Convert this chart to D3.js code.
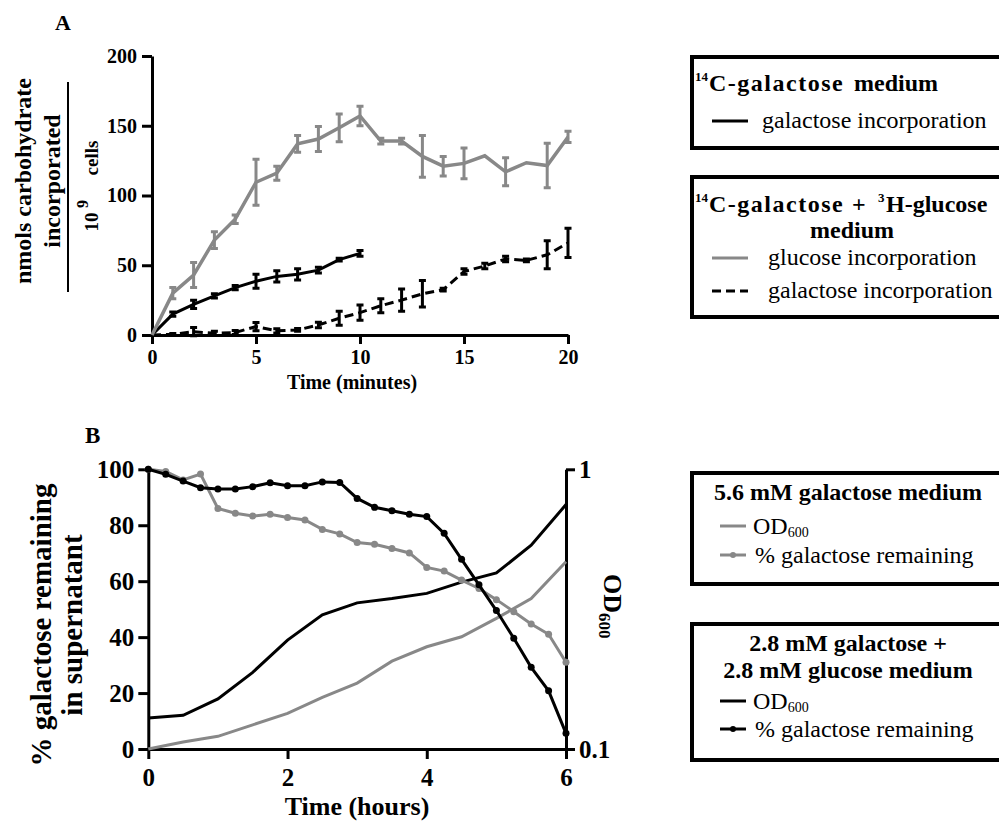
<!DOCTYPE html>
<html>
<head>
<meta charset="utf-8">
<script src="https://cdn.jsdelivr.net/npm/d3@7"></script>
<style>
body { margin: 0; background: #fff; }
svg, svg text { font-family: "Liberation Serif", "Tinos", "Times New Roman", "DejaVu Serif", serif; }
.axis path, .axis line { stroke: #000; stroke-width: 3; }
.axis text { font-weight: bold; fill: #000; }
.lbl { font-weight: bold; fill: #000; }
.leg { fill: #000; font-size: 24px; }
.box { fill: none; stroke: #000; stroke-width: 4; }
</style>
</head>
<body>
<div id="chart"></div>
<script>
// ---- panel A data (minutes) ----
let minutes = [0, 1, 2, 3, 4, 5, 6, 7, 8, 9, 10, 11, 12, 13, 14, 15, 16, 17, 18, 19, 20];
let minutesGalOnly = [0, 1, 2, 3, 4, 5, 6, 7, 8, 9, 10];
let glucoseMix = [0, 30, 43, 68, 83, 109.5, 116, 137, 140.5, 148.5, 157, 139, 139, 128, 121, 123, 128.5, 117, 123.5, 121.5, 142];
let glucoseMixErr = [0, 4, 9, 6, 3, 16.5, 5, 6, 9, 10, 7, 2, 2, 15, 7, 11, 0, 10, 0, 16, 4];
let galactoseOnly = [0, 15, 22, 28, 34, 38.5, 42, 43.5, 46.5, 54, 58.5];
let galactoseOnlyErr = [0, 1.5, 3, 1.5, 1.5, 5, 4, 4, 2, 1, 2];
let galactoseMix = [0, 0.5, 2.4, 1.2, 1.8, 6, 3, 3.6, 7.2, 12, 16, 21, 25, 29.5, 32.5, 45.5, 49.5, 54.5, 53.5, 57.5, 66];
let galactoseMixErr = [0, 0.5, 3, 1.5, 1.5, 3, 1.5, 1, 2, 5, 5.5, 5, 8, 9.5, 1, 2, 2, 2, 1, 10, 10.5];
let minuteTicks = [0, 5, 10, 15, 20];
let countTicks = [0, 50, 100, 150, 200];

// ---- panel B data (hours) ----
let hoursPct = [0, 0.25, 0.5, 0.75, 1, 1.25, 1.5, 1.75, 2, 2.25, 2.5, 2.75, 3, 3.25, 3.5, 3.75, 4, 4.25, 4.5, 4.75, 5, 5.25, 5.5, 5.75, 6];
let pctGal56 = [100, 99.2, 96.2, 98.3, 86, 84.3, 83.3, 83.9, 82.8, 81.9, 78.5, 76.9, 73.8, 73.2, 71.7, 70.1, 64.9, 63.6, 60.4, 57.4, 53.4, 49.1, 44.7, 41, 31];
let pctGalMix = [100, 98.2, 95.8, 93.4, 93, 93, 93.8, 95.2, 94.1, 94.1, 95.5, 95.3, 89.6, 86.4, 85.2, 83.9, 83.1, 77.1, 67.8, 58.7, 49.5, 39.6, 29.2, 20.8, 5.6];
let hoursOD = [0, 0.5, 1, 1.5, 2, 2.5, 3, 3.5, 4, 4.5, 5, 5.5, 6];
let od56 = [0.100, 0.106, 0.111, 0.122, 0.134, 0.153, 0.172, 0.206, 0.232, 0.252, 0.293, 0.345, 0.467];
let odMix = [0.129, 0.132, 0.151, 0.188, 0.245, 0.302, 0.333, 0.345, 0.360, 0.395, 0.426, 0.535, 0.748];
let hourTicks = [0, 2, 4, 6];
let pctTicks = [0, 20, 40, 60, 80, 100];
let odTicks = [0.1, 1];

let gray = "#888888";
let serif = "'Liberation Serif', 'Tinos', 'Times New Roman', 'DejaVu Serif', serif";

let svg = d3.select("#chart").append("svg")
	.attr("width", 999)
	.attr("height", 821)
	.attr("font-family", serif);

//================ panel A ================
let xA = d3.scaleLinear().domain([0, 20]).range([152, 568]);
let yA = d3.scaleLinear().domain([0, 200]).range([335, 56]);

svg.append("g")
	.attr("class", "axis")
	.attr("transform", `translate(0, ${yA(0)})`)
	.call(d3.axisBottom(xA).tickValues(minuteTicks).tickFormat(d3.format("d"))
		.tickSize(9).tickSizeOuter(0).tickPadding(6))
	.attr("font-size", 20).attr("font-family", serif);
svg.append("g")
	.attr("class", "axis")
	.attr("transform", `translate(${xA(0)}, 0)`)
	.call(d3.axisLeft(yA).tickValues(countTicks).tickFormat(d3.format("d"))
		.tickSize(10).tickSizeOuter(0).tickPadding(5))
	.attr("font-size", 20).attr("font-family", serif);

let lineOf = (xs, ys, xs_, ys_) => d3.line().x((d, i) => xs_(xs[i])).y(d => ys_(d))(ys);

let errorBars = function(g, xs, vals, errs, color, xs_, ys_) {
	let data = xs.map((x, i) => ({ x: x, v: vals[i], e: errs[i] })).filter(d => d.e > 0);
	g.selectAll(null)
		.data(data)
		.enter()
		.append("path")
		.attr("d", d => {
			let x = xs_(d.x), y0 = ys_(d.v - d.e), y1 = ys_(d.v + d.e), c = 3.5;
			return `M${x},${y0}V${y1}M${x - c},${y0}H${x + c}M${x - c},${y1}H${x + c}`;
		})
		.attr("fill", "none")
		.attr("stroke", color)
		.attr("stroke-width", 3);
};

let gA = svg.append("g");
//dashed galactose (mixed medium)
gA.append("path")
	.attr("d", lineOf(minutes, galactoseMix, xA, yA))
	.attr("fill", "none").attr("stroke", "#000").attr("stroke-width", 3)
	.attr("stroke-dasharray", "9,5");
errorBars(gA, minutes, galactoseMix, galactoseMixErr, "#000", xA, yA);
//solid galactose (galactose only medium)
gA.append("path")
	.attr("d", lineOf(minutesGalOnly, galactoseOnly, xA, yA))
	.attr("fill", "none").attr("stroke", "#000").attr("stroke-width", 3);
errorBars(gA, minutesGalOnly, galactoseOnly, galactoseOnlyErr, "#000", xA, yA);
//gray glucose
gA.append("path")
	.attr("d", lineOf(minutes, glucoseMix, xA, yA))
	.attr("fill", "none").attr("stroke", gray).attr("stroke-width", 3.5);
errorBars(gA, minutes, glucoseMix, glucoseMixErr, gray, xA, yA);

//labels A
svg.append("text").attr("class", "lbl").attr("x", 55).attr("y", 30).attr("font-size", 22).text("A");
svg.append("text").attr("class", "lbl").attr("x", 352).attr("y", 389)
	.attr("text-anchor", "middle").attr("font-size", 20).text("Time (minutes)");
svg.append("text").attr("class", "lbl").attr("font-size", 24).attr("text-anchor", "middle")
	.attr("transform", "translate(31, 181) rotate(-90)").text("nmols carbohydrate");
svg.append("text").attr("class", "lbl").attr("font-size", 24).attr("text-anchor", "middle")
	.attr("transform", "translate(60, 181) rotate(-90)").text("incorporated");
svg.append("line").attr("x1", 68).attr("x2", 68).attr("y1", 82).attr("y2", 292)
	.attr("stroke", "#000").attr("stroke-width", 2);
svg.append("text").attr("class", "lbl").attr("font-size", 19).attr("text-anchor", "middle")
	.attr("transform", "translate(98, 222) rotate(-90)").text("10");
svg.append("text").attr("class", "lbl").attr("font-size", 16).attr("text-anchor", "middle")
	.attr("transform", "translate(88, 204) rotate(-90)").text("9");
svg.append("text").attr("class", "lbl").attr("font-size", 19).attr("text-anchor", "middle")
	.attr("transform", "translate(98, 158) rotate(-90)").text("cells");

//legend A
let sup = (x, y, s) => svg.append("text").attr("x", x).attr("y", y)
	.attr("font-size", 13).attr("font-weight", "bold").text(s);

svg.append("rect").attr("class", "box").attr("x", 692).attr("y", 57).attr("width", 320).attr("height", 91);
sup(695, 81, "14");
let t1 = svg.append("text").attr("class", "leg").attr("y", 91).attr("font-weight", "bold");
t1.append("tspan").attr("x", 709).attr("letter-spacing", 1.5).text("C-galactose");
t1.append("tspan").attr("x", 854).text("medium");
svg.append("line").attr("x1", 712).attr("x2", 748).attr("y1", 121).attr("y2", 121)
	.attr("stroke", "#000").attr("stroke-width", 3);
svg.append("text").attr("class", "leg").attr("x", 762).attr("y", 128).text("galactose incorporation");

svg.append("rect").attr("class", "box").attr("x", 692).attr("y", 177).attr("width", 320).attr("height", 140);
sup(695, 202, "14");
sup(878, 202, "3");
let t2 = svg.append("text").attr("class", "leg").attr("y", 212).attr("font-weight", "bold");
t2.append("tspan").attr("x", 709).attr("letter-spacing", 1.5).text("C-galactose");
t2.append("tspan").attr("x", 852).text("+");
t2.append("tspan").attr("x", 886).text("H-glucose");
svg.append("text").attr("class", "leg").attr("x", 852).attr("y", 238)
	.attr("text-anchor", "middle").attr("font-weight", "bold").text("medium");
svg.append("line").attr("x1", 712).attr("x2", 748).attr("y1", 258).attr("y2", 258)
	.attr("stroke", gray).attr("stroke-width", 3);
svg.append("text").attr("class", "leg").attr("x", 768).attr("y", 265).text("glucose incorporation");
svg.append("line").attr("x1", 712).attr("x2", 748).attr("y1", 291).attr("y2", 291)
	.attr("stroke", "#000").attr("stroke-width", 3).attr("stroke-dasharray", "9,5");
svg.append("text").attr("class", "leg").attr("x", 768).attr("y", 298).text("galactose incorporation");

//================ panel B ================
let xB = d3.scaleLinear().domain([0, 6]).range([148.3, 566]);
let yB = d3.scaleLinear().domain([0, 100]).range([749, 469.3]);
let yOD = d3.scaleLog().domain([0.1, 1]).range([749, 469.3]);

svg.append("g")
	.attr("class", "axis")
	.attr("transform", `translate(0, ${yB(0)})`)
	.call(d3.axisBottom(xB).tickValues(hourTicks).tickFormat(d3.format("d"))
		.tickSize(10).tickSizeOuter(0).tickPadding(9))
	.attr("font-size", 25).attr("font-family", serif);
svg.append("g")
	.attr("class", "axis")
	.attr("transform", `translate(${xB(0)}, 0)`)
	.call(d3.axisLeft(yB).tickValues(pctTicks).tickFormat(d3.format("d"))
		.tickSize(10).tickSizeOuter(0).tickPadding(4))
	.attr("font-size", 25).attr("font-family", serif);
svg.append("g")
	.attr("class", "axis")
	.attr("transform", `translate(${xB(6)}, 0)`)
	.call(d3.axisRight(yOD).tickValues(odTicks).tickFormat(d => d === 1 ? "1" : "0.1")
		.tickSize(9).tickSizeOuter(0).tickPadding(4))
	.attr("font-size", 25).attr("font-family", serif);

let gB = svg.append("g");
gB.append("path").attr("d", lineOf(hoursOD, od56, xB, yOD))
	.attr("fill", "none").attr("stroke", gray).attr("stroke-width", 3);
gB.append("path").attr("d", lineOf(hoursOD, odMix, xB, yOD))
	.attr("fill", "none").attr("stroke", "#000").attr("stroke-width", 3);
gB.append("path").attr("d", lineOf(hoursPct, pctGal56, xB, yB))
	.attr("fill", "none").attr("stroke", gray).attr("stroke-width", 3);
gB.selectAll(null).data(pctGal56).enter().append("circle")
	.attr("cx", (d, i) => xB(hoursPct[i])).attr("cy", d => yB(d)).attr("r", 3.5).attr("fill", gray);
gB.append("path").attr("d", lineOf(hoursPct, pctGalMix, xB, yB))
	.attr("fill", "none").attr("stroke", "#000").attr("stroke-width", 3);
gB.selectAll(null).data(pctGalMix).enter().append("circle")
	.attr("cx", (d, i) => xB(hoursPct[i])).attr("cy", d => yB(d)).attr("r", 3.5).attr("fill", "#000");

//labels B
svg.append("text").attr("class", "lbl").attr("x", 85).attr("y", 443).attr("font-size", 23).text("B");
svg.append("text").attr("class", "lbl").attr("x", 357).attr("y", 815)
	.attr("text-anchor", "middle").attr("font-size", 26).text("Time (hours)");
svg.append("text").attr("class", "lbl").attr("font-size", 29).attr("text-anchor", "middle")
	.attr("transform", "translate(51, 625) rotate(-90)").text("% galactose remaining");
svg.append("text").attr("class", "lbl").attr("font-size", 29).attr("text-anchor", "middle")
	.attr("transform", "translate(82, 625) rotate(-90)").text("in supernatant");
let odT = svg.append("text").attr("class", "lbl").attr("font-size", 26)
	.attr("transform", "translate(604, 574) rotate(90)");
odT.append("tspan").text("OD");
odT.append("tspan").attr("font-size", 17).attr("dy", 5).text("600");

//legend B
let legendB = function(top, bottom, titles, titleY, rows, color) {
	svg.append("rect").attr("class", "box").attr("x", 692).attr("y", top).attr("width", 320).attr("height", bottom - top);
	titles.forEach((t, i) => {
		svg.append("text").attr("class", "leg").attr("x", 848).attr("y", titleY[i])
			.attr("text-anchor", "middle").attr("font-weight", "bold").text(t);
	});
	//OD row
	svg.append("line").attr("x1", 720).attr("x2", 746).attr("y1", rows[0] - 8).attr("y2", rows[0] - 8)
		.attr("stroke", color).attr("stroke-width", 3);
	let od = svg.append("text").attr("class", "leg").attr("x", 753).attr("y", rows[0]);
	od.append("tspan").text("OD");
	od.append("tspan").attr("font-size", 14).attr("dy", 3).text("600");
	//% row
	svg.append("line").attr("x1", 720).attr("x2", 746).attr("y1", rows[1] - 8).attr("y2", rows[1] - 8)
		.attr("stroke", color).attr("stroke-width", 3);
	svg.append("circle").attr("cx", 733).attr("cy", rows[1] - 8).attr("r", 3).attr("fill", color);
	svg.append("text").attr("class", "leg").attr("x", 755).attr("y", rows[1]).text("% galactose remaining");
};
legendB(473, 584, ["5.6 mM galactose medium"], [500], [534, 563], gray);
legendB(624, 760, ["2.8 mM galactose  +", "2.8 mM glucose medium"], [651, 678], [709, 737], "#000");
</script>
</body>
</html>
